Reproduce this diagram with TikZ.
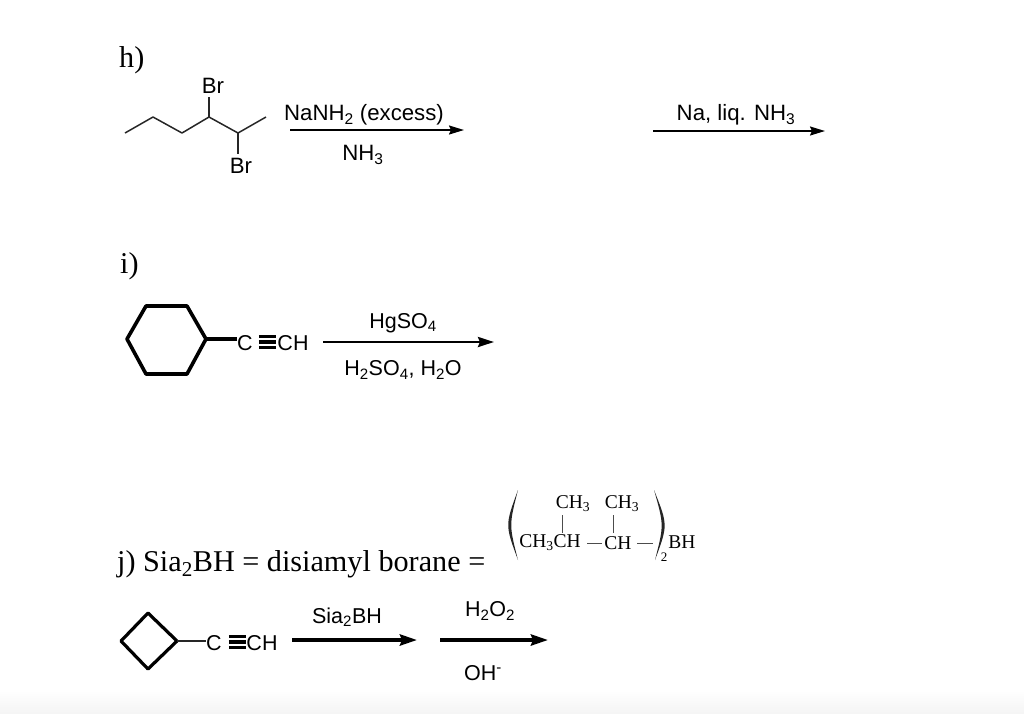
\documentclass[tikz,border=0pt]{standalone}
\usepackage{fontspec}
\setmainfont{Liberation Sans}
\newfontfamily\timesfont{Liberation Serif}
\usetikzlibrary{arrows.meta}
\begin{document}
\begin{tikzpicture}[x=1pt,y=-1pt,
        reagent/.style={inner sep=0pt,font=\fontsize{21.5}{25}\selectfont},
        bigreagent/.style={inner sep=0pt,font=\fontsize{22.2}{26}\selectfont},
        question/.style={inner sep=0pt,font=\timesfont\fontsize{30.2}{34}\selectfont},
        formula/.style={inner sep=0pt,font=\timesfont\fontsize{19.5}{23}\selectfont},
        bond/.style={line width=1.5pt,draw=black!85},
        ring/.style={line width=3.6pt,line join=round,line cap=round},
        triple/.style={line width=3.7pt},
        rxn/.style={line width=1.6pt,-{Stealth[length=15pt,width=9pt,inset=2pt]}},
        rxnbold/.style={line width=2.6pt,-{Stealth[length=16pt,width=10pt,inset=2pt]}},
        rxnheavy/.style={line width=3.6pt,-{Stealth[length=17pt,width=11pt,inset=2pt]}},
        thin bond/.style={line width=.9pt,draw=black!70}]
        %page
        \useasboundingbox (0,0) rectangle (1024,713);
        \shade[top color=white,bottom color=black!4] (0,690) rectangle (1024,713);

        %part h
        \node[question,anchor=west] (h) at (119,60) {h)};
        \node[bigreagent] (br1) at (213,86) {Br};
        \node[bigreagent] (br2) at (241,166) {Br};
        \coordinate (c1) at (125,133);
        \coordinate (c2) at (153,117);
        \coordinate (c3) at (182,133);
        \coordinate (c4) at (209,117);
        \coordinate (c5) at (238,133);
        \coordinate (c6) at (266,117);
        \draw[bond,line join=round] (c1) -- (c2) -- (c3) -- (c4) -- (c5) -- (c6);
        \draw[bond] (c4) -- (209,97);
        \draw[bond] (c5) -- (238,154);
        \coordinate (a1s) at (290,130);
        \coordinate (a1e) at (464,130);
        \draw[rxn] (a1s) -- (a1e);
        \node[bigreagent] (naexcess) at (364,115) {NaNH\textsubscript{2} (excess)};
        \node[bigreagent] (nh3) at (363,155) {NH\textsubscript{3}};
        \coordinate (a2s) at (653,131);
        \coordinate (a2e) at (825,131);
        \draw[rxn] (a2s) -- (a2e);
        \node[bigreagent] (naliq) at (736,115) {Na, liq. NH\textsubscript{3}};

        %part i
        \node[question,anchor=west] (i) at (120,266) {i)};
        \coordinate (r1) at (127,339);
        \coordinate (r2) at (146,306);
        \coordinate (r3) at (187,306);
        \coordinate (r4) at (206,339);
        \coordinate (r5) at (187,374);
        \coordinate (r6) at (146,374);
        \draw[ring] (r1) -- (r2) -- (r3) -- (r4) -- (r5) -- (r6) -- cycle;
        \node[reagent] (c7) at (245,343) {C};
        \node[reagent] (ch1) at (293,343) {CH};
        \draw[ring,line cap=butt] (r4) -- (r4 -| c7.west);
        \foreach \s in {-5.5,0,5.5}
          \draw[triple] ([yshift=\s pt]c7.east) ++(6,-1) -- ++(17,0);
        \coordinate (a3s) at (323,342);
        \coordinate (a3e) at (494,342);
        \draw[rxnbold] (a3s) -- (a3e);
        \node[reagent] (hgso) at (403,323) {HgSO\textsubscript{4}};
        \node[reagent] (hhso) at (403,370) {H\textsubscript{2}SO\textsubscript{4}, H\textsubscript{2}O};

        %part j
        \node[question,anchor=west] (j) at (117,564) {j) Sia\textsubscript{2}BH = disiamyl borane =};
        \fill[black!85] (518,490) .. controls (505,525) .. (518,560) .. controls (509,525) .. cycle;
        \fill[black!85] (654,490) .. controls (668,525) .. (655,560) .. controls (664,525) .. cycle;
        \node[formula] (me1) at (573,504) {CH\textsubscript{3}};
        \node[formula] (me2) at (622,504) {CH\textsubscript{3}};
        \node[formula] (ch3ch) at (550,543) {CH\textsubscript{3}CH};
        \node[formula] (ch2) at (618,543) {CH};
        \node[formula] (bh) at (682,542) {BH};
        \node[formula] (sub) at (664,557) {\fontsize{13}{15}\selectfont 2};
        \draw[thin bond] (562,515) -- (562,533);
        \draw[thin bond] (613,515) -- (613,533);
        \draw[thin bond] (587,543) -- (602,543);
        \draw[thin bond] (637,543) -- (653,543);
        \coordinate (s1) at (148,613);
        \coordinate (s2) at (177,641);
        \coordinate (s3) at (148,669);
        \coordinate (s4) at (121,641);
        \draw[ring,line width=3.2pt] (s1) -- (s2) -- (s3) -- (s4) -- cycle;
        \node[reagent] (c8) at (214,643) {C};
        \node[reagent] (ch4) at (262,643) {CH};
        \draw[bond,line width=2.6pt] (s2) -- (s2 -| c8.west);
        \foreach \s in {-5.5,0,5.5}
          \draw[triple] ([yshift=\s pt]c8.east) ++(7,-1) -- ++(17,0);
        \coordinate (a4s) at (292,640);
        \coordinate (a4e) at (417,640);
        \draw[rxnheavy] (a4s) -- (a4e);
        \coordinate (a5s) at (440,640);
        \coordinate (a5e) at (548,640);
        \draw[rxnheavy] (a5s) -- (a5e);
        \node[reagent] (sia) at (347,617) {Sia\textsubscript{2}BH};
        \node[reagent] (h2o2) at (490,611) {H\textsubscript{2}O\textsubscript{2}};
        \node[reagent] (oh) at (483,673) {OH\textsuperscript{-}};
\end{tikzpicture}
\end{document}
